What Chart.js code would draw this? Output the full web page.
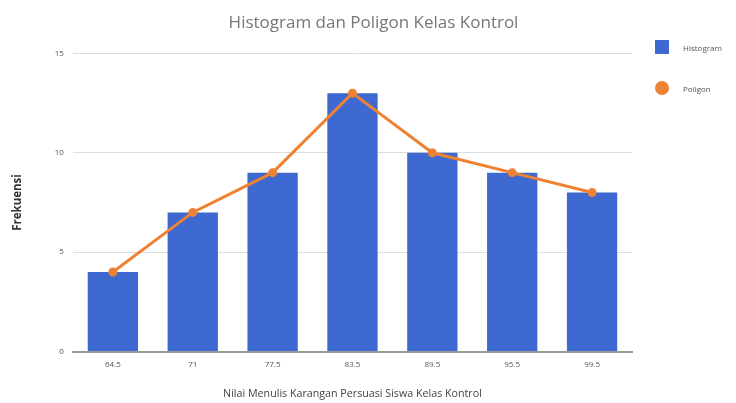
<!DOCTYPE html>
<html>
<head>
<meta charset="utf-8">
<script src="https://cdn.jsdelivr.net/npm/chart.js@4"></script>
<style>
  html, body { margin: 0; padding: 0; background: #fff; }
  #wrap { position: relative; width: 736px; height: 403px; }
  #legenda { position: absolute; left: 655px; top: 40px; margin: 0; padding: 0; list-style: none;
             font-family: 'Open Sans', sans-serif; font-size: 8px; color: #555; }
  #legenda li { display: flex; align-items: center; height: 14px; margin-bottom: 27px; }
  #legenda .kotak { width: 14px; height: 14px; margin-right: 14px; }
</style>
</head>
<body>
<div id="wrap">
  <canvas id="chart"></canvas>
  <ul id="legenda"></ul>
</div>
<script>
// Datos del histograma y poligono
const kelas = ['64.5', '71', '77.5', '83.5', '89.5', '95.5', '99.5'];
const histogram = [4, 7, 9, 13, 10, 9, 8];
const poligon = [4, 7, 9, 13, 10, 9, 8];
const yTicks = [0, 5, 10, 15];

const biru = '#3d69d1';
const oranye = '#ee8234';

const ctx = document.getElementById('chart').getContext('2d');

const chart = new Chart(ctx, {
    type: 'bar',
    data: {
        labels: kelas,
        datasets: [{
            type: 'line',
            label: 'Poligon',
            data: poligon,
            borderColor: oranye,
            backgroundColor: oranye,
            borderWidth: 3,
            pointRadius: 3,
            pointBackgroundColor: oranye,
            tension: 0,
            order: 0
        }, {
            label: 'Histogram',
            data: histogram,
            backgroundColor: biru,
            barPercentage: 0.63,
            categoryPercentage: 1,
            order: 1
        }]
    },
    options: {
        responsive: true,
        maintainAspectRatio: false,
        animation: false,
        layout: { padding: { top: 13, right: 0, left: 11, bottom: 3 } },
        plugins: {
            title: {
                display: true,
                text: 'Histogram dan Poligon Kelas Kontrol',
                color: '#777',
                font: { family: 'Open Sans', size: 17, weight: 'normal' },
                padding: { top: 0, bottom: 20 }
            },
            legend: { display: false },
            tooltip: { enabled: false }
        },
        scales: {
            x: {
                grid: { display: false, drawTicks: false },
                border: { color: '#999', width: 2 },
                ticks: { color: '#555', font: { family: 'Open Sans', size: 8 }, padding: 8 },
                title: {
                    display: true,
                    text: 'Nilai Menulis Karangan Persuasi Siswa Kelas Kontrol',
                    color: '#444',
                    font: { family: 'Open Sans', size: 10.7 },
                    padding: { top: 10, bottom: 0 }
                }
            },
            y: {
                min: 0,
                max: 15,
                afterBuildTicks: axis => { axis.ticks = yTicks.map(v => ({ value: v })); },
                grid: { color: '#ddd', drawTicks: false },
                border: { display: false },
                ticks: { color: '#555', font: { family: 'Open Sans', size: 8 }, padding: 9 },
                title: {
                    display: true,
                    text: 'Frekuensi',
                    color: '#333',
                    font: { family: 'Open Sans', size: 11.5, weight: 'bold' },
                    padding: { top: 0, bottom: 21 }
                }
            },
            // eje vacio a la derecha para dejar sitio a la leyenda
            kanan: {
                type: 'linear',
                position: 'right',
                grid: { display: false, drawTicks: false },
                border: { display: false },
                ticks: { display: false },
                afterFit: axis => { axis.width = 104; }
            }
        }
    }
});

// Leyenda en HTML: histograma primero, luego poligono
const legenda = document.getElementById('legenda');
[1, 0].forEach(i => {
    const ds = chart.data.datasets[i];
    const li = document.createElement('li');
    const kotak = document.createElement('span');
    kotak.className = 'kotak';
    kotak.style.background = ds.backgroundColor;
    if (ds.type === 'line') kotak.style.borderRadius = '50%';
    li.appendChild(kotak);
    li.appendChild(document.createTextNode(ds.label));
    legenda.appendChild(li);
});
</script>
</body>
</html>
